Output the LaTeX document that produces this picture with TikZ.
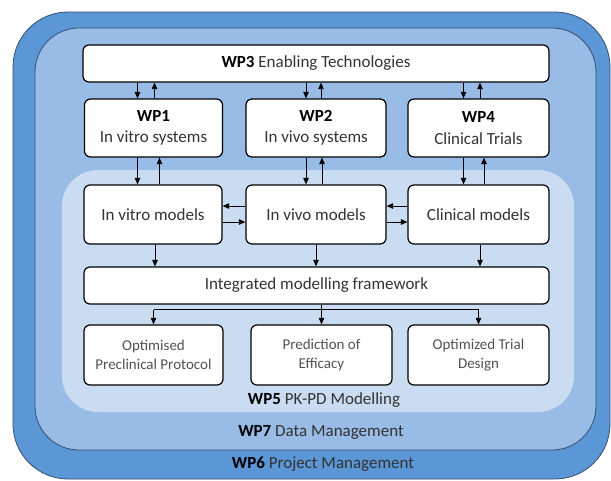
\documentclass[tikz,border=0pt]{standalone}
\usepackage{fontspec}
\setmainfont{Carlito}
\usetikzlibrary{arrows.meta,calc}
\definecolor{pmblue}{HTML}{5B96D6}
\definecolor{dmblue}{HTML}{98BCE5}
\definecolor{pkblue}{HTML}{CADCF1}
\definecolor{layeredge}{HTML}{34506E}
\definecolor{txtgray}{HTML}{333333}
\tikzset{
  wpbox/.style={draw=black, line width=1.2pt, fill=white, rounded corners=6pt,
    align=center, inner sep=0pt, font=\fontsize{17}{21.5}\selectfont, text=txtgray},
  outbox/.style={wpbox, font=\fontsize{15}{19}\selectfont, text=black!68},
  arr/.style={line width=0.9pt, -{Triangle[length=6.5pt,width=5.5pt]}},
  plain/.style={line width=0.9pt},
  layerlabel/.style={font=\fontsize{17}{20}\selectfont, text=txtgray, inner sep=0pt},
}
\begin{document}
\begin{tikzpicture}[x=1pt,y=-1pt]
\useasboundingbox (0,0) rectangle (611,480);
% nested work-package layers
\draw[fill=pmblue, draw=layeredge, line width=0.8pt, rounded corners=55pt] (13,12) rectangle (610,479);
\draw[fill=dmblue, draw=layeredge, line width=0.8pt, rounded corners=44pt] (35,28) rectangle (596,450);
\fill[pkblue, rounded corners=36pt] (62,170) rectangle (574,412);

\node[layerlabel] (l5) at (324,400) {\textbf{\color{black}WP5} PK-PD Modelling};
\node[layerlabel] (l7) at (321,432) {\textbf{\color{black}WP7} Data Management};
\node[layerlabel] (l6) at (323,464) {\textbf{\color{black}WP6} Project Management};

% top row
\node[wpbox, minimum width=466pt, minimum height=37pt] (wp3) at (316,63.5) {\textbf{\color{black}WP3} Enabling Technologies};
\node[wpbox, minimum width=138pt, minimum height=58pt] (wp1) at (153.5,128) {\textbf{\color{black}WP1}\\In vitro systems};
\node[wpbox, minimum width=140pt, minimum height=58pt] (wp2) at (316,128) {\textbf{\color{black}WP2}\\In vivo systems};
\node[wpbox, minimum width=141pt, minimum height=58pt] (wp4) at (478.5,128) {\textbf{\color{black}WP4}\\Clinical Trials};

% model row
\node[wpbox, minimum width=138pt, minimum height=59pt] (mvitro) at (153,214.5) {In vitro models};
\node[wpbox, minimum width=140pt, minimum height=59pt] (mvivo) at (316,214.5) {In vivo models};
\node[wpbox, minimum width=141pt, minimum height=59pt] (mclin) at (478.5,214.5) {Clinical models};

\node[wpbox, minimum width=465pt, minimum height=37pt] (fw) at (316.5,285.5) {Integrated modelling framework};

% outcomes
\node[outbox, minimum width=139pt, minimum height=60pt] (o1) at (153.5,355) {Optimised\\Preclinical Protocol};
\node[outbox, minimum width=141pt, minimum height=60pt] (o2) at (321.5,355) {Prediction of\\Efficacy};
\node[outbox, minimum width=141pt, minimum height=60pt] (o3) at (478.5,355) {Optimized Trial\\Design};

% WP3 <-> WP1/WP2/WP4
\draw[arr] ([xshift=-16pt]wp1.north |- wp3.south) -- ([xshift=-16pt]wp1.north);
\draw[arr] ([xshift=1pt]wp1.north) -- ([xshift=1pt]wp1.north |- wp3.south);
\draw[arr] ([xshift=-10pt]wp2.north |- wp3.south) -- ([xshift=-10pt]wp2.north);
\draw[arr] ([xshift=5pt]wp2.north) -- ([xshift=5pt]wp2.north |- wp3.south);
\draw[arr] ([xshift=-15pt]wp4.north |- wp3.south) -- ([xshift=-15pt]wp4.north);
\draw[arr] ([xshift=1.5pt]wp4.north) -- ([xshift=1.5pt]wp4.north |- wp3.south);

% WP boxes <-> models
\draw[arr] ([xshift=-16pt]wp1.south) -- ([xshift=-16pt]wp1.south |- mvitro.north);
\draw[arr] ([xshift=6pt]wp1.south |- mvitro.north) -- ([xshift=6pt]wp1.south);
\draw[arr] ([xshift=-10pt]wp2.south) -- ([xshift=-10pt]wp2.south |- mvivo.north);
\draw[arr] ([xshift=6pt]wp2.south |- mvivo.north) -- ([xshift=6pt]wp2.south);
\draw[arr] ([xshift=-15pt]wp4.south) -- ([xshift=-15pt]wp4.south |- mclin.north);
\draw[arr] ([xshift=5.5pt]wp4.south |- mclin.north) -- ([xshift=5.5pt]wp4.south);

% links between models
\draw[arr] ([yshift=-7.5pt]mvitro.east) -- ([yshift=-7.5pt]mvitro.east -| mvivo.west);
\draw[arr] ([yshift=8.5pt]mvivo.west) -- ([yshift=8.5pt]mvivo.west -| mvitro.east);
\draw[arr] ([yshift=-7.5pt]mvivo.east) -- ([yshift=-7.5pt]mvivo.east -| mclin.west);
\draw[arr] ([yshift=8.5pt]mclin.west) -- ([yshift=8.5pt]mclin.west -| mvivo.east);

% models -> framework
\draw[arr] ([xshift=2pt]mvitro.south) -- ([xshift=2pt]mvitro.south |- fw.north);
\draw[arr] (mvivo.south) -- (mvivo.south |- fw.north);
\draw[arr] ([xshift=1.5pt]mclin.south) -- ([xshift=1.5pt]mclin.south |- fw.north);

% framework -> outcomes
\coordinate (split) at ($(fw.south -| o2.north)+(0,5)$);
\draw[plain] (fw.south -| o2.north) -- (split);
\draw[plain] (split -| o1.north) -- (split -| o3.north);
\draw[arr] (split -| o1.north) -- (o1.north);
\draw[arr] (split) -- (o2.north);
\draw[arr] (split -| o3.north) -- (o3.north);
\end{tikzpicture}
\end{document}
